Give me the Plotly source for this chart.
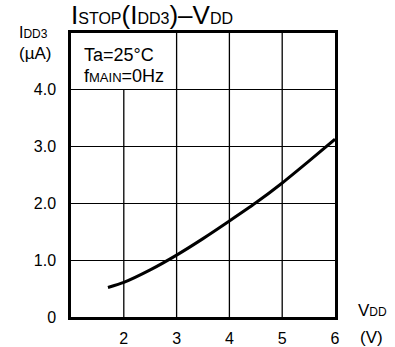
import plotly.graph_objects as go

# Data
vdd = [1.7, 2.0, 2.5, 3.0, 3.5, 4.0, 4.5, 5.0, 5.5, 6.0]
idd3 = [0.52, 0.61, 0.83, 1.09, 1.38, 1.69, 2.01, 2.36, 2.74, 3.13]

x_tickvals = [2, 3, 4, 5, 6]
x_ticktext = ["2", "3", "4", "5", "6"]
y_tickvals = [0, 1, 2, 3, 4]
y_ticktext = ["0", "1.0", "2.0", "3.0", "4.0"]

# vertical grid lines: x position and top extent
vgrid_x = [2, 3, 4, 5]
vgrid_top = [4, 5, 5, 5]

FONT = "Liberation Sans, Arial, sans-serif"
BIG = 26
SMALL = 16

fig = go.Figure()
fig.add_trace(go.Scatter(
    x=vdd, y=idd3, mode="lines",
    line=dict(color="black", width=3, shape="spline", smoothing=0.6),
    showlegend=False, hoverinfo="skip",
))

shapes = []
for gx, gt in zip(vgrid_x, vgrid_top):
    shapes.append(dict(type="line", xref="x", yref="y", x0=gx, x1=gx, y0=0, y1=gt,
                       line=dict(color="black", width=1.3), layer="below"))

def sm(t, size):
    return f"<span style='font-size:{size}px'>{t}</span>"

annotations = [
    # title
    dict(text="I" + sm("STOP", SMALL) + "(I" + sm("DD3", SMALL) + ")–V" + sm("DD", SMALL),
         xref="paper", yref="paper", x=0, y=1, xanchor="left", yanchor="bottom",
         xshift=-1, yshift=2, borderpad=0, showarrow=False,
         font=dict(size=BIG, color="black", family=FONT)),
    # y-axis title
    dict(text="I" + sm("DD3", 12), xref="paper", yref="paper", x=0, y=1,
         xanchor="center", yanchor="bottom", xshift=-38, yshift=-10, showarrow=False,
         font=dict(size=16, color="black", family=FONT)),
    dict(text="(µA)", xref="paper", yref="paper", x=0, y=1,
         xanchor="center", yanchor="bottom", xshift=-36, yshift=-32, showarrow=False,
         font=dict(size=17, color="black", family=FONT)),
    # x-axis title
    dict(text="V" + sm("DD", 12), xref="paper", yref="paper", x=1, y=0,
         xanchor="center", yanchor="middle", xshift=37, yshift=7, showarrow=False,
         font=dict(size=17, color="black", family=FONT)),
    dict(text="(V)", xref="paper", yref="paper", x=1, y=0,
         xanchor="center", yanchor="middle", xshift=36, yshift=-20, showarrow=False,
         font=dict(size=17, color="black", family=FONT)),
    # condition box text
    dict(text="Ta=25°C", xref="x", yref="y", x=2, y=4.5, xanchor="center", yanchor="middle",
         xshift=-5, yshift=6, showarrow=False, font=dict(size=18, color="black", family=FONT)),
    dict(text="f" + sm("MAIN", 13) + "=0Hz", xref="x", yref="y", x=2, y=4.5, xanchor="center",
         yanchor="middle", yshift=-14.5, xshift=0, showarrow=False,
         font=dict(size=18, color="black", family=FONT)),
]

fig.update_layout(
    width=395, height=347,
    margin=dict(l=70.5, r=60, t=33, b=30.3, autoexpand=False),
    paper_bgcolor="white", plot_bgcolor="white",
    shapes=shapes, annotations=annotations,
    font=dict(family=FONT, color="black"),
    xaxis=dict(range=[1, 6], tickvals=x_tickvals, ticktext=x_ticktext, showgrid=False,
               zeroline=False, showline=True, mirror=True, linecolor="black", linewidth=2.5,
               ticks="outside", ticklen=5, tickcolor="rgba(0,0,0,0)", automargin=False,
               tickfont=dict(size=16, color="black", family=FONT), fixedrange=True),
    yaxis=dict(range=[0, 5], tickvals=y_tickvals, ticktext=y_ticktext, showgrid=True,
               gridcolor="black", gridwidth=1.3, zeroline=False, showline=True, mirror=True,
               linecolor="black", linewidth=2.5, ticks="outside", ticklen=9, automargin=False,
               tickcolor="rgba(0,0,0,0)", tickfont=dict(size=16, color="black", family=FONT),
               fixedrange=True),
)

# remove the page's default body margin so the figure fills the window exactly
fig.write_html("out.html", config={"displayModeBar": False},
               post_script="document.body.style.margin='0';")
